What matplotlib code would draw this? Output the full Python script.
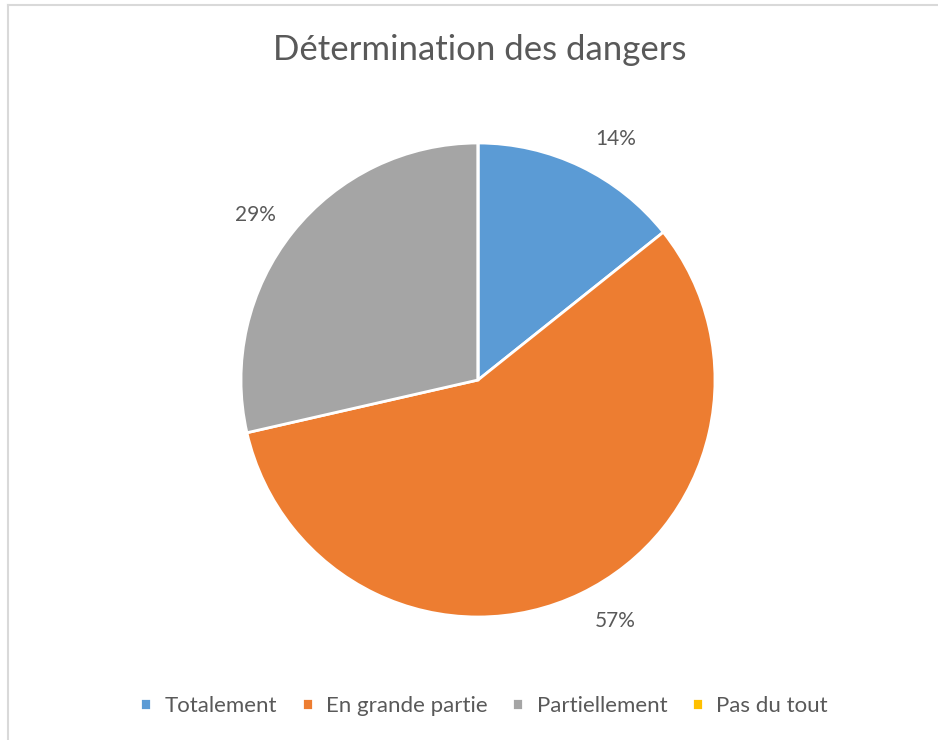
import numpy as np
import matplotlib.pyplot as plt
from matplotlib.lines import Line2D

# data
categories = ["Totalement", "En grande partie", "Partiellement", "Pas du tout"]
values = [1, 4, 2, 0]
colors = ["#5B9BD5", "#ED7D31", "#A5A5A5", "#FFC000"]
title = "Détermination des dangers"

plt.rcParams['font.family'] = ['Lato', 'DejaVu Sans']
text_color = "#595959"

W, H = 938, 740
fig = plt.figure(figsize=(W / 100, H / 100), dpi=100)

# pie placed in pixel terms: centre (478, 380), radius 237
cx, cy, r = 478, 380, 237
ax = fig.add_axes([(cx - r) / W, (H - cy - r) / H, 2 * r / W, 2 * r / H])

wedges, _ = ax.pie(
    values, colors=colors, startangle=90, counterclock=False, radius=1,
    wedgeprops=dict(edgecolor="white", linewidth=2))
ax.set_xlim(-1, 1)
ax.set_ylim(-1, 1)
ax.axis("off")

# percentage labels outside the wedges (Excel "best fit" style nudges)
total = sum(values)
nudge = [4, -4, -2]  # degrees, clockwise
for w, v, dn in zip(wedges, values, nudge + [0] * len(values)):
    if v == 0:
        continue
    mid = np.deg2rad((w.theta1 + w.theta2) / 2 - dn)
    ax.text(1.17 * np.cos(mid), 1.17 * np.sin(mid), f"{100 * v / total:.0f}%",
            ha="center", va="center", fontsize=15, color=text_color)

fig.text(480 / W, 1 - 50 / H, title, ha="center", va="center",
         fontsize=25, color=text_color)

# legend
fig.legend(wedges, categories, loc="center", bbox_to_anchor=(484 / W, 1 - 706 / H),
           ncol=4, frameon=False, fontsize=16, labelcolor=text_color,
           handlelength=0.5, handleheight=0.5, handletextpad=0.6,
           columnspacing=1.1)

# light chart border (top and left visible)
fig.add_artist(Line2D([8 / W, 1], [1 - 5 / H, 1 - 5 / H], color="#D9D9D9", lw=1.5))
fig.add_artist(Line2D([8 / W, 8 / W], [0, 1 - 5 / H], color="#D9D9D9", lw=1.5))

fig.savefig("out.png", dpi=100, facecolor="white")
